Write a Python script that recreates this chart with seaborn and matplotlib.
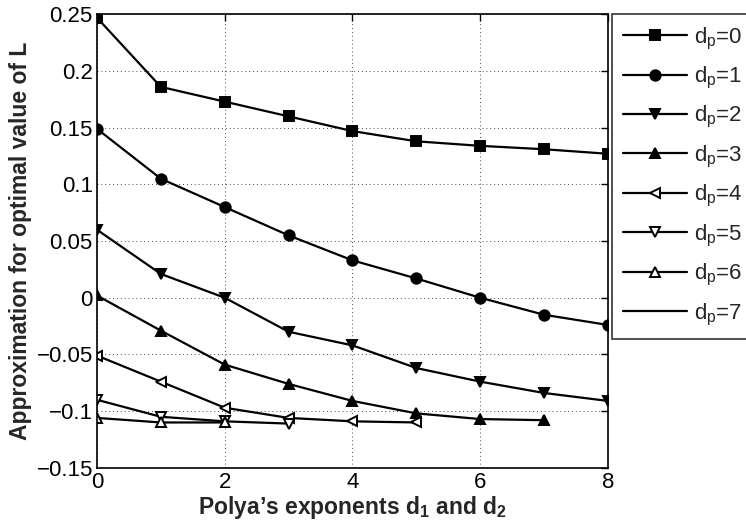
import numpy as np
import pandas as pd
import seaborn as sns
import matplotlib
matplotlib.use("Agg")
import matplotlib.pyplot as plt
from matplotlib.ticker import FuncFormatter

# values (x = Polya exponent)
dp0 = [0.247, 0.186, 0.173, 0.160, 0.147, 0.138, 0.134, 0.131, 0.127]
dp1 = [0.149, 0.105, 0.080, 0.055, 0.033, 0.017, 0.000, -0.015, -0.024]
dp2 = [0.060, 0.021, 0.000, -0.030, -0.042, -0.062, -0.074, -0.084, -0.091]
dp3 = [0.002, -0.029, -0.059, -0.076, -0.091, -0.102, -0.107, -0.108]
dp4 = [-0.051, -0.074, -0.097, -0.106, -0.109, -0.110]
dp5 = [-0.090, -0.105, -0.109, -0.111]
dp6 = [-0.106, -0.110, -0.110]
dp7 = []

series = [dp0, dp1, dp2, dp3, dp4, dp5, dp6, dp7]
labels = ["d$_\\mathrm{p}$=%d" % i for i in range(8)]
markers = ["s", "o", "v", "^", "<", "v", "^", None]
filled = [True, True, True, True, False, False, False, True]

sns.set_theme(style="white")
plt.rcParams["font.family"] = ["Liberation Sans", "DejaVu Sans"]
plt.rcParams["mathtext.fontset"] = "custom"
plt.rcParams["mathtext.rm"] = "Liberation Sans"
plt.rcParams["mathtext.bf"] = "Liberation Sans:bold"
plt.rcParams["mathtext.it"] = "Liberation Sans:italic"

fig = plt.figure(figsize=(7.46, 5.31), dpi=100)
ax = fig.add_axes([0.130, 0.119, 0.685, 0.854])

for vals, lab, mk, fl in zip(series, labels, markers, filled):
    if len(vals) == 0:
        ax.plot([], [], color="black", lw=1.6, label=lab)
        continue
    df = pd.DataFrame({"x": np.arange(len(vals)), "y": vals})
    sns.lineplot(data=df, x="x", y="y", ax=ax, color="black", lw=1.6,
                 marker=mk, markersize=7.5,
                 markerfacecolor="black" if fl else "white",
                 markeredgecolor="black", markeredgewidth=1.4,
                 label=lab, legend=False)

ax.set_xlim(0, 8)
ax.set_ylim(-0.15, 0.25)
ax.set_xticks([0, 2, 4, 6, 8])
ax.set_yticks(np.arange(-0.15, 0.2501, 0.05))
ax.yaxis.set_major_formatter(FuncFormatter(lambda v, p: ("%g" % round(v, 3)).replace("-", "\u2212")))
ax.grid(True, color="black", linestyle=(0, (1, 3)), linewidth=0.7, alpha=0.7)
ax.tick_params(direction="in", length=5, width=1, top=True, right=True,
               labelsize=16, colors="black", pad=3)
for s in ax.spines.values():
    s.set_color("black")
    s.set_linewidth(1.2)

ax.set_xlabel("Polya\u2019s exponents d$_\\mathbf{1}$ and d$_\\mathbf{2}$",
              fontsize=16.5, fontweight="bold", labelpad=1)
ax.set_ylabel("Approximation for optimal value of L", fontsize=16.5,
              fontweight="bold", labelpad=3)

leg = ax.legend(loc="upper left", bbox_to_anchor=(0.820, 0.973),
                bbox_transform=fig.transFigure, fontsize=16, frameon=True,
                fancybox=False, edgecolor="black", handlelength=2.9,
                labelspacing=0.6, borderaxespad=0, borderpad=0.5,
                handletextpad=0.3)
leg.get_frame().set_linewidth(1.2)

fig.savefig("out.png", dpi=100)
